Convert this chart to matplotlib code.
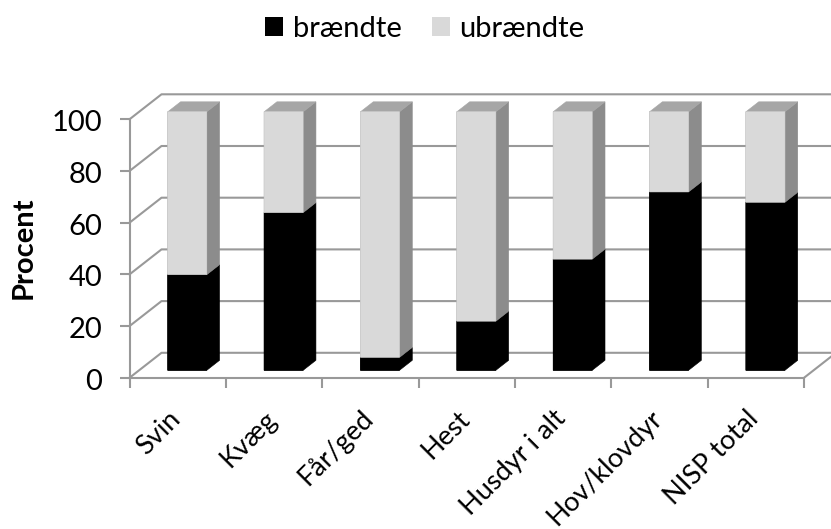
import matplotlib
matplotlib.use("Agg")
import matplotlib.pyplot as plt
from matplotlib.patches import Patch
from matplotlib.transforms import ScaledTranslation

categories = ["Svin", "Kvæg", "Får/ged", "Hest", "Husdyr i alt", "Hov/klovdyr", "NISP total"]
braendte = [37, 61, 5, 19, 43, 69, 65]
ubraendte = [63, 39, 95, 81, 57, 31, 35]
yticks = [0, 20, 40, 60, 80, 100]

W, H = 831, 529
LEFT, RIGHT, Y0, Y100 = 129.5, 804.0, 377.8, 119.3
plt.rcParams["font.family"] = ["Lato", "DejaVu Sans"]

fig = plt.figure(figsize=(W / 100, H / 100), dpi=100, facecolor="white")
ax = fig.add_axes([LEFT / W, 1 - Y0 / H, (RIGHT - LEFT) / W, (Y0 - Y100) / H])
ax.set_xlim(0, len(categories))
ax.set_ylim(0, 100)
ax.patch.set_visible(False)

ux = (RIGHT - LEFT) / len(categories)   # px per category
uy = (Y0 - Y100) / 100                  # px per percent
DX, DY = 32 / ux, 25 / uy               # depth vector in data units
GRID = "#999999"
LW = 1.5


def proj(x, y, z):
    return x + z * DX, y + z * DY


# walls
for t in yticks:
    x0, y0 = proj(0, t, 0)
    x1, y1 = proj(0, t, 1)
    x2, y2 = proj(len(categories), t, 1)
    ax.plot([x0, x1, x2], [y0, y1, y2], color=GRID, lw=LW, clip_on=False, zorder=1)
x0, y0 = proj(len(categories), 0, 0)
x1, y1 = proj(len(categories), 0, 1)
ax.plot([x0, x1], [y0, y1], color=GRID, lw=LW, clip_on=False, zorder=1)

# bars
Z0, Z1 = 0.3, 0.7
BW = 39 / ux
COL_FRONT = ["#000000", "#D9D9D9"]
COL_SIDE = ["#000000", "#8C8C8C"]
COL_TOP = "#A6A6A6"

for i, (a, b) in enumerate(zip(braendte, ubraendte)):
    xl = i + 0.5 - BW / 2
    xr = xl + BW
    for j, (bot, val) in enumerate(((0, a), (a, b))):
        top = bot + val
        fx, fy = proj(xl, bot, Z0)
        rects = ax.bar(fx, val, BW, bottom=fy, align="edge", facecolor=COL_FRONT[j],
                       edgecolor=COL_FRONT[j], lw=0.4, zorder=3, clip_on=False)
        for r in rects:
            r.set_snap(False)
        # the side polygon runs on underneath the front face, so no seam shows
        pts = [proj(xl, bot, Z0), proj(xr, bot, Z0), proj(xr, bot, Z1), proj(xr, top, Z1),
               proj(xr, top, Z0), proj(xl, top, Z0)]
        ax.fill(*zip(*pts), facecolor=COL_SIDE[j], edgecolor=COL_SIDE[j], lw=0.4, zorder=2.5,
                clip_on=False)
    t = a + b
    pts = [proj(xl, t, Z0), proj(xr, t, Z0), proj(xr, t, Z1), proj(xl, t, Z1)]
    ax.fill(*zip(*pts), facecolor=COL_TOP, edgecolor=COL_TOP, lw=0.4, zorder=2.6, clip_on=False)

# axes
for s in ("top", "right"):
    ax.spines[s].set_visible(False)
for s in ("left", "bottom"):
    ax.spines[s].set_color(GRID)
    ax.spines[s].set_linewidth(LW)
    ax.spines[s].set_zorder(2)
ax.set_yticks(yticks)
ax.tick_params(axis="y", length=7.2, width=LW, color=GRID, labelsize=21, pad=12.5,
               labelcolor="black")
ax.set_xticks(range(len(categories) + 1))
ax.set_xticklabels([])
ax.tick_params(axis="x", which="major", length=7.2, width=LW, color=GRID)
ax.set_xticks([i + 0.5 for i in range(len(categories))], minor=True)
ax.set_xticklabels(categories, minor=True, rotation=45, ha="right", va="center",
                   rotation_mode="anchor", fontsize=19.5)
ax.tick_params(axis="x", which="minor", length=0, pad=26.5)

xoff = ScaledTranslation(-1 / 100, 0, fig.dpi_scale_trans)
for lab in ax.get_xticklabels(minor=True):
    lab.set_transform(lab.get_transform() + xoff)
yoff = ScaledTranslation(0, -1.5 / 100, fig.dpi_scale_trans)
for lab in ax.get_yticklabels():
    lab.set_transform(lab.get_transform() + yoff)

fig.text(24 / W, 1 - 248 / H, "Procent", rotation=90, fontsize=21, fontweight="bold",
         ha="center", va="center")

handles = [Patch(color="#000000", lw=0), Patch(color="#D9D9D9", lw=0)]
fig.legend(handles, ["brændte", "ubrændte"], ncol=2, frameon=False, fontsize=21,
           loc="center", bbox_to_anchor=(425 / W, 1 - 29 / H),
           handlelength=0.62, handleheight=0.62, handletextpad=0.31, columnspacing=1.06,
           borderpad=0, borderaxespad=0)

fig.savefig("out.png", dpi=100)
